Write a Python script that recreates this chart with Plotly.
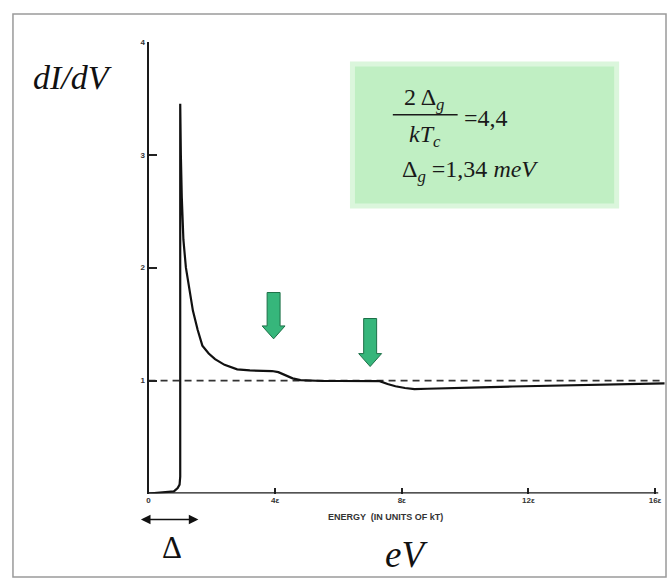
import plotly.graph_objects as go

# ---------------- data ----------------
energy = [0.0, 0.3, 0.6, 0.8, 0.92, 0.98, 1.00, 1.00, 1.02, 1.05, 1.10, 1.18, 1.28, 1.40,
          1.55, 1.70, 1.90, 2.10, 2.40, 2.80, 3.20, 3.60, 3.90, 4.10, 4.30, 4.55, 4.80,
          5.10, 5.50, 6.00, 6.50, 7.00, 7.30, 7.55, 7.80, 8.10, 8.40, 8.80, 9.50, 10.5,
          11.5, 12.5, 13.5, 14.5, 15.5, 16.3]
didv = [0.0, 0.005, 0.01, 0.02, 0.05, 0.08, 0.15, 3.45, 3.0, 2.62, 2.25, 2.0, 1.82, 1.62,
        1.45, 1.31, 1.24, 1.19, 1.14, 1.10, 1.09, 1.085, 1.085, 1.075, 1.05, 1.02, 1.005,
        1.0, 0.997, 0.997, 0.998, 1.0, 0.995, 0.97, 0.95, 0.935, 0.925, 0.928, 0.935, 0.94,
        0.948, 0.955, 0.96, 0.965, 0.97, 0.975]

normal_x = [0.0, 16.3]
normal_y = [1.0, 1.0]

x_tickvals = [0, 4, 8, 12, 16]
x_ticktext = ["0", "4ε", "8ε", "12ε", "16ε"]
y_tickvals = [1, 2, 3, 4]
y_ticktext = ["1", "2", "3", "4"]

arrow_x = [3.95, 7.0]
arrow_top = [1.78, 1.55]
arrow_tip = [1.37, 1.125]

# ---------------- layout helpers ----------------
W, H = 669, 581
def px(v):
    return v / W
def py(v):
    return 1 - v / H

X0, X1 = 147, 665          # plot area in pixels
Y0, Y1 = 493, 38
XPU = 31.75                # pixels per x unit
YPU = (Y0 - Y1) / 4.0      # pixels per y unit

fig = go.Figure()

# dashed normal-state line
fig.add_trace(go.Scatter(x=normal_x, y=normal_y, mode="lines",
                         line=dict(color="#333333", width=1.6, dash="7px,5px"),
                         hoverinfo="skip", showlegend=False))

# tunneling conductance curve
fig.add_trace(go.Scatter(x=energy, y=didv, mode="lines",
                         line=dict(color="#111111", width=2.2),
                         hoverinfo="skip", showlegend=False))

# green block arrows
shaft_hw = 6.5 / XPU
head_hw = 11.5 / XPU
head_h = 13 / YPU
for ax_, top, tip in zip(arrow_x, arrow_top, arrow_tip):
    xs = [ax_ - shaft_hw, ax_ + shaft_hw, ax_ + shaft_hw, ax_ + head_hw, ax_,
          ax_ - head_hw, ax_ - shaft_hw, ax_ - shaft_hw]
    ys = [top, top, tip + head_h, tip + head_h, tip, tip + head_h, tip + head_h, top]
    fig.add_trace(go.Scatter(x=xs, y=ys, mode="lines", fill="toself",
                             fillcolor="#36b67b", line=dict(color="#1d7048", width=1),
                             hoverinfo="skip", showlegend=False))

shapes = []
# outer frame
shapes.append(dict(type="rect", xref="paper", yref="paper",
                   x0=px(11), x1=px(666), y0=py(577), y1=py(10),
                   line=dict(color="#9a9a9a", width=1.5), layer="below"))
# green box (soft edge + body)
shapes.append(dict(type="rect", xref="paper", yref="paper",
                   x0=px(349), x1=px(619), y0=py(206), y1=py(58),
                   fillcolor="#dbf6dc", line=dict(width=0), layer="below"))
shapes.append(dict(type="rect", xref="paper", yref="paper",
                   x0=px(354), x1=px(614), y0=py(201), y1=py(63),
                   fillcolor="#c0efc3", line=dict(width=0), layer="below"))
# fraction bar
shapes.append(dict(type="line", xref="paper", yref="paper",
                   x0=px(392), x1=px(457), y0=py(111.5), y1=py(111.5),
                   line=dict(color="#1a1a1a", width=1.5)))
# x axis line
shapes.append(dict(type="line", xref="x", yref="y", x0=0, x1=16.1, y0=0, y1=0,
                   line=dict(color="#1a1a1a", width=2.5)))

serif = "'Liberation Serif', 'Times New Roman', Times, serif"
annotations = [
    dict(text="<i>dI/dV</i>", x=px(71), y=py(74), font=dict(family=serif, size=34, color="#111")),
    dict(text="Δ", x=px(171), y=py(547), font=dict(family=serif, size=31, color="#111")),
    dict(text="<i>eV</i>", x=px(406), y=py(554), font=dict(family=serif, size=37, color="#111")),
    dict(text="2 Δ<sub><i>g</i></sub>", x=px(424), y=py(96),
         font=dict(family=serif, size=24, color="#1a1a1a")),
    dict(text="<i>kT</i><sub><i>c</i></sub>", x=px(424), y=py(133),
         font=dict(family=serif, size=24, color="#1a1a1a")),
    dict(text="=4,4", x=px(461), y=py(115), xanchor="left",
         font=dict(family=serif, size=24, color="#1a1a1a")),
    dict(text="Δ<sub><i>g</i></sub> =1,34 <i>meV</i>", x=px(399), y=py(168), xanchor="left",
         font=dict(family=serif, size=24, color="#1a1a1a")),
    dict(text="<b>ENERGY  (IN UNITS OF kT)</b>", x=px(385), y=py(517),
         font=dict(family="Liberation Sans", size=9, color="#333")),
]
for a in annotations:
    a.setdefault("xref", "paper")
    a.setdefault("yref", "paper")
    a.setdefault("xanchor", "center")
    a.setdefault("yanchor", "middle")
    a["showarrow"] = False

# double-headed arrow under the gap
annotations.append(dict(x=(197 - X0) / XPU, y=py(519), xref="x", yref="paper",
                        ax=-59, ay=0, axref="pixel", ayref="pixel", text="",
                        showarrow=True, arrowhead=2, arrowsize=1.2, arrowwidth=1.6,
                        arrowside="end+start", arrowcolor="#111"))

fig.update_layout(
    width=W, height=H,
    margin=dict(l=0, r=0, t=0, b=0),
    paper_bgcolor="white", plot_bgcolor="rgba(0,0,0,0)",
    shapes=shapes, annotations=annotations,
    xaxis=dict(domain=[px(X0), px(X1)], range=[0, (X1 - X0) / XPU],
               showgrid=False, zeroline=False, showline=False,
               tickmode="array", tickvals=x_tickvals,
               ticktext=["<b>" + t + "</b>" for t in x_ticktext],
               ticks="inside", ticklen=6, tickwidth=1.5, tickcolor="#222",
               tickfont=dict(family="Liberation Sans", size=8, color="#333")),
    yaxis=dict(domain=[py(Y0), py(Y1)], range=[0, 4],
               showgrid=False, zeroline=False, showline=True,
               linecolor="#1a1a1a", linewidth=2,
               tickmode="array", tickvals=y_tickvals,
               ticktext=["<b>" + t + "</b>" for t in y_ticktext],
               ticks="inside", ticklen=8, tickwidth=1.5, tickcolor="#222",
               tickfont=dict(family="Liberation Sans", size=8, color="#333")),
)

fig.write_html("out.html")
